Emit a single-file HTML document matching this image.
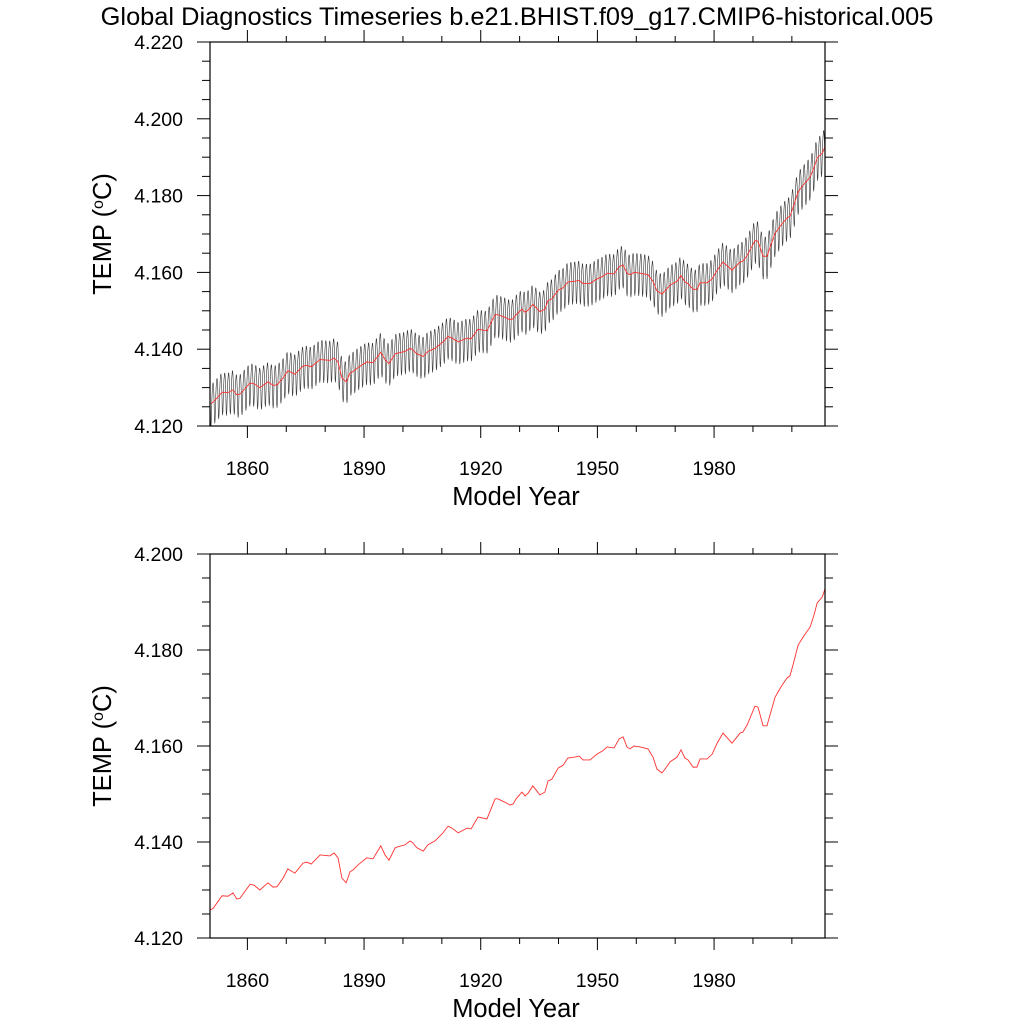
<!DOCTYPE html>
<html><head><meta charset="utf-8"><style>
html,body{margin:0;padding:0;background:#fff;}
svg{display:block;font-family:"Liberation Sans",sans-serif;}
</style></head><body>
<svg id="chart" width="1024" height="1024" xmlns="http://www.w3.org/2000/svg">
<text x="517" y="25" text-anchor="middle" font-size="25.4">Global Diagnostics Timeseries b.e21.BHIST.f09_g17.CMIP6-historical.005</text>
<g id="p1"></g>
<g id="p2"></g>
</svg>
<script>
const years = [1850.4,1851.2,1853.5,1855.0,1856.3,1857.3,1858.1,1860.7,1861.7,1863.2,1865.3,1866.6,1867.6,1869.2,1870.4,1872.2,1874.3,1875.3,1876.4,1878.7,1881.2,1882.3,1883.3,1884.3,1885.4,1886.4,1887.2,1888.4,1890.7,1892.3,1894.3,1895.4,1896.4,1898.0,1898.7,1900.5,1901.8,1902.3,1903.6,1905.2,1906.4,1908.2,1910.3,1911.6,1912.6,1914.2,1916.5,1917.5,1919.3,1921.6,1923.7,1924.4,1926.2,1927.5,1928.3,1929.1,1930.6,1931.4,1932.2,1933.4,1935.2,1936.5,1937.3,1938.3,1939.9,1941.2,1942.4,1944.2,1945.3,1946.3,1948.1,1949.9,1951.4,1952.5,1954.3,1955.6,1956.6,1957.6,1958.4,1959.4,1961.0,1963.0,1964.3,1965.3,1966.6,1967.4,1968.7,1970.5,1971.5,1972.5,1973.3,1974.6,1975.6,1976.4,1978.2,1979.5,1980.8,1982.3,1984.6,1986.7,1987.4,1988.5,1989.8,1990.5,1991.3,1992.6,1993.6,1994.4,1995.7,1997.5,1998.8,1999.5,2000.3,2001.6,2002.9,2004.7,2005.7,2006.5,2007.8,2008.6];
const temps = [4.1258,4.1262,4.1288,4.1287,4.1294,4.1281,4.1283,4.1312,4.1310,4.1300,4.1315,4.1306,4.1307,4.1325,4.1344,4.1335,4.1356,4.1358,4.1354,4.1373,4.1371,4.1377,4.1367,4.1325,4.1315,4.1338,4.1342,4.1352,4.1367,4.1365,4.1392,4.1373,4.1362,4.1388,4.1390,4.1394,4.1402,4.1400,4.1388,4.1381,4.1394,4.1402,4.1419,4.1433,4.1429,4.1419,4.1429,4.1427,4.1452,4.1448,4.1490,4.1490,4.1483,4.1477,4.1479,4.1490,4.1504,4.1496,4.1502,4.1517,4.1498,4.1504,4.1527,4.1531,4.1554,4.1560,4.1575,4.1577,4.1579,4.1571,4.1571,4.1583,4.1590,4.1598,4.1596,4.1615,4.1619,4.1598,4.1594,4.1600,4.1598,4.1594,4.1577,4.1552,4.1544,4.1552,4.1567,4.1577,4.1592,4.1575,4.1571,4.1556,4.1556,4.1573,4.1573,4.1583,4.1606,4.1627,4.1606,4.1627,4.1629,4.1644,4.1669,4.1683,4.1681,4.1642,4.1642,4.1665,4.1702,4.1727,4.1742,4.1746,4.1769,4.1810,4.1827,4.1848,4.1873,4.1898,4.1910,4.1929];
const seasonalCycle = [0.004,0.005,0.005,0.004,0.002,-0.001,-0.005,-0.006,-0.005,-0.002,0.001,0.003];
const xTickLabels = ["1860","1890","1920","1950","1980"];
const yTicksTop = ["4.120","4.140","4.160","4.180","4.200","4.220"];
const yTicksBottom = ["4.120","4.140","4.160","4.180","4.200"];

const NS="http://www.w3.org/2000/svg";
const X0=210,X1=825;
function xs(y){return 208.5+(y-1850)*3.889;}
function mk(tag,attrs,parent){const e=document.createElementNS(NS,tag);for(const k in attrs)e.setAttribute(k,attrs[k]);parent.appendChild(e);return e;}
function interp(y){
  if(y<=years[0])return temps[0];
  for(let i=1;i<years.length;i++){if(y<=years[i]){const t=(y-years[i-1])/(years[i]-years[i-1]);return temps[i-1]+t*(temps[i]-temps[i-1]);}}
  return temps[temps.length-1];
}
function panel(g,top,bot,vmin,vmax,yt,monthly){
  const ys=v=>bot-(v-vmin)/(vmax-vmin)*(bot-top);
  const cid='c'+top;
  const cp=mk('clipPath',{id:cid},g);mk('rect',{x:X0,y:top,width:X1-X0,height:bot-top},cp);
  const dg=mk('g',{'clip-path':'url(#'+cid+')'},g);
  if(monthly){
    let d='';
    for(let yr=1850;yr<2009;yr++){for(let m=0;m<12;m++){const t=yr+(m+0.5)/12;if(t<years[0]-0.3||t>years[years.length-1]+0.3)continue;const v=interp(t)+seasonalCycle[m];d+=(d?'L':'M')+xs(t).toFixed(2)+','+ys(v).toFixed(2);}}
    const p=mk('path',{d:d,fill:'none',stroke:'#333','stroke-width':0.6},dg);
    
    
  }
  let d2='';
  years.forEach((y,i)=>{d2+=(i?'L':'M')+xs(y).toFixed(2)+','+ys(temps[i]).toFixed(2);});
  const r=mk('path',{d:d2,fill:'none',stroke:'#ff3030','stroke-width':0.9},dg);
  
  
  const f=mk('rect',{x:X0,y:top,width:X1-X0,height:bot-top,fill:'none',stroke:'#000','stroke-width':1.2},g);
  
  
  const tg=mk('g',{stroke:'#000','stroke-width':1},g);
  const step=0.005;
  for(let v=vmin;v<=vmax+1e-9;v+=step){
    const major=Math.abs(Math.round(v*1000)%20)<0.5;
    const L=major?13:8;const yy=ys(v);
    mk('line',{x1:X0-L,y1:yy,x2:X0,y2:yy},tg);
    mk('line',{x1:X1,y1:yy,x2:X1+L,y2:yy},tg);
  }
  yt.forEach(s=>{const t=mk('text',{x:183,y:ys(parseFloat(s))+7,'text-anchor':'end','font-size':19.5},g);t.textContent=s;
    });
  for(let yr=1850;yr<=2010;yr+=10){
    const xx=xs(yr);if(xx<X0||xx>X1)continue;
    const major=(yr-1860)%30===0;const L=major?12:6;
    mk('line',{x1:xx,y1:bot,x2:xx,y2:bot+L},tg);
    mk('line',{x1:xx,y1:top-L,x2:xx,y2:top},tg);
  }
  xTickLabels.forEach(s=>{const t=mk('text',{x:xs(parseFloat(s)),y:bot+49,'text-anchor':'middle','font-size':19.5},g);t.textContent=s;
    });
  const xl=mk('text',{x:516,y:bot+79,'text-anchor':'middle','font-size':25.5},g);xl.textContent='Model Year';
  
  const cy=(top+bot)/2;
  const yl=mk('text',{x:111,y:cy,'text-anchor':'middle','font-size':25.5,transform:'rotate(-90 111 '+cy+')'},g);
  yl.innerHTML='TEMP (<tspan baseline-shift="super" font-size="16">o</tspan>C)';
  
}
panel(document.getElementById('p1'),42,426,4.120,4.220,yTicksTop,true);
panel(document.getElementById('p2'),554,938,4.120,4.200,yTicksBottom,false);
</script>
</body></html>
